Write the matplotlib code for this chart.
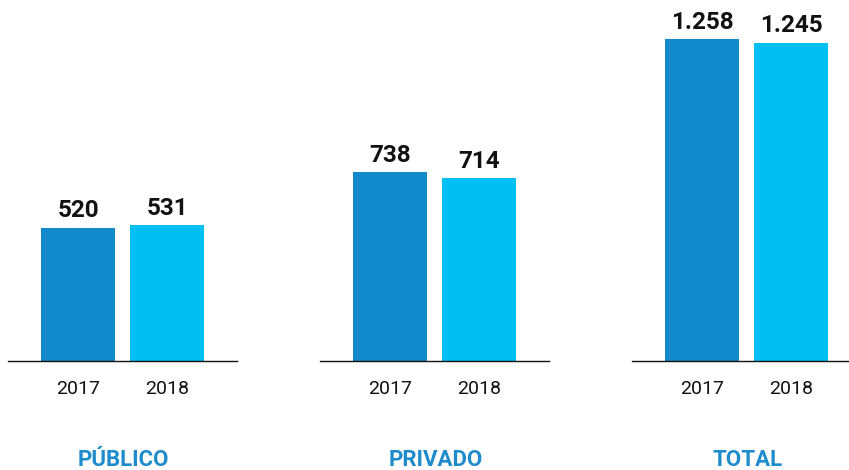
import matplotlib.pyplot as plt

CATEGORIES = ["PÚBLICO", "PRIVADO", "TOTAL"]
YEARS      = ["2017", "2018"]
VALUES     = [[520, 531], [738, 714], [1258, 1245]]
COLORS     = ["#1289CA", "#00BFF2"]
TITLE_COLOR = "#1E8BCC"

plt.rcParams["font.family"] = ["Roboto", "DejaVu Sans"]

W, H = 849, 470
fig = plt.figure(figsize=(W / 100, H / 100), dpi=100)

for i, (cat, vals) in enumerate(zip(CATEGORIES, VALUES)):
    left = 8 + i * 312
    ax = fig.add_axes([left / W, 109 / H, 229 / W, 358 / H])
    xs = list(range(len(vals)))
    bars = ax.bar(xs, vals, width=0.84, color=COLORS, zorder=2)
    for b, v in zip(bars, vals):
        ax.annotate(f"{v:,}".replace(",", "."),
                    (b.get_x() + b.get_width() / 2, v),
                    xytext=(0, 4), textcoords="offset points",
                    ha="center", va="bottom", fontsize=17.5,
                    fontweight="bold", color="#111111")
    ax.set_xlim(-0.787, 1.786)
    ax.set_ylim(0, 1400)
    ax.set_xticks(xs, YEARS, fontsize=14, color="#111111")
    ax.tick_params(axis="x", length=0, pad=14)
    ax.set_yticks([])
    for s in ("top", "left", "right"):
        ax.spines[s].set_visible(False)
    ax.spines["bottom"].set_linewidth(1.0)
    ax.spines["bottom"].set_color("#111111")
    ax.set_xlabel(cat, fontsize=16, fontweight="bold", color=TITLE_COLOR)
    ax.xaxis.set_label_coords(0.505, -0.245)
    ax.patch.set_alpha(0)

fig.savefig("out.png", dpi=100)
